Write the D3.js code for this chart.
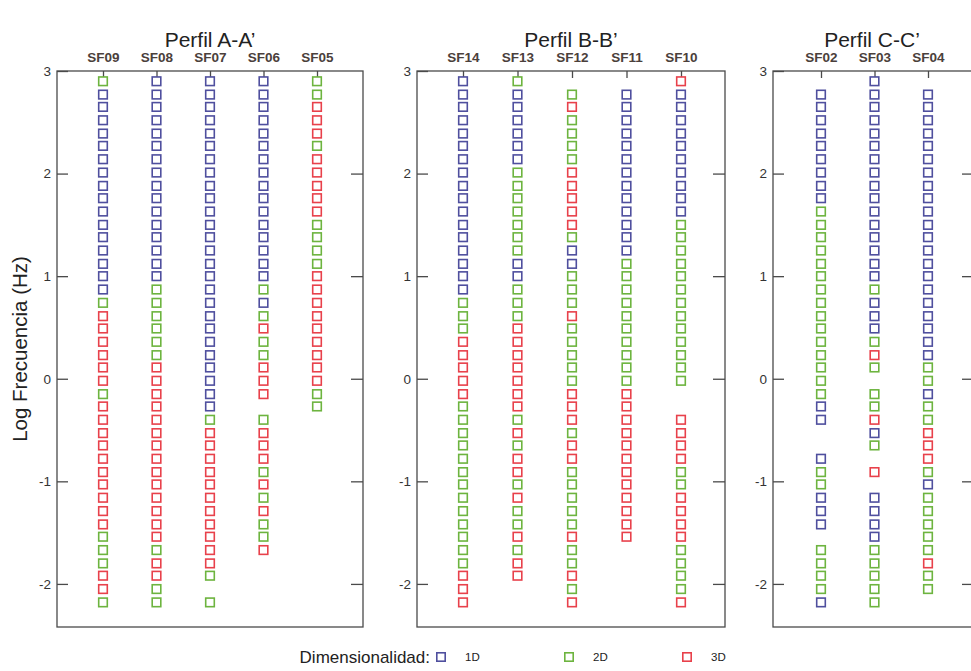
<!DOCTYPE html>
<html>
<head>
<meta charset="utf-8">
<script src="https://cdn.jsdelivr.net/npm/d3@7/dist/d3.min.js"></script>
<style>
  body { margin: 0; background: #fff; }
  svg { display: block; font-family: "Liberation Sans", Arial, sans-serif; }
</style>
</head>
<body>
<svg id="chart" width="971" height="671"></svg>
<script>
// Log frequency of each sounding row (index k, top to bottom).
const logFreq = [2.90, 2.77, 2.65, 2.52, 2.39, 2.27, 2.14, 2.01, 1.88, 1.76,
                 1.63, 1.50, 1.38, 1.25, 1.12, 1.00, 0.87, 0.74, 0.61, 0.49,
                 0.36, 0.23, 0.11, -0.02, -0.15, -0.27, -0.40, -0.53, -0.65, -0.78,
                 -0.91, -1.03, -1.16, -1.29, -1.42, -1.54, -1.67, -1.80, -1.92, -2.05,
                 -2.18];

// Profile titles and the stations along each one.
const profiles = ["Perfil A-A’", "Perfil B-B’", "Perfil C-C’"];
const stationsA = ["SF09", "SF08", "SF07", "SF06", "SF05"];
const stationsB = ["SF14", "SF13", "SF12", "SF11", "SF10"];
const stationsC = ["SF02", "SF03", "SF04"];

const yTicks = [-2, -1, 0, 1, 2, 3];
const dimLabels = ["1D", "2D", "3D"];

// Dimensionality down each station as runs of [class, rows]:
// 1 = 1D, 2 = 2D, 3 = 3D, 0 = no estimate.
const dims = {
  SF09: [[2,1],[1,16],[2,1],[3,6],[2,1],[3,10],[2,3],[3,2],[2,1]],
  SF08: [[1,16],[2,6],[3,14],[2,1],[3,2],[2,2]],
  SF07: [[1,26],[2,1],[3,11],[2,1],[0,1],[2,1]],
  SF06: [[1,16],[2,1],[1,1],[2,1],[3,1],[2,2],[3,3],[0,1],[2,1],[3,3],[2,1],[3,1],[2,1],[3,1],[2,2],[3,1]],
  SF05: [[2,2],[3,3],[2,1],[3,5],[2,4],[3,9],[2,2]],
  SF14: [[1,17],[2,3],[3,5],[2,13],[3,3]],
  SF13: [[2,1],[1,6],[2,7],[1,2],[2,3],[3,7],[2,1],[3,1],[2,1],[3,2],[2,1],[3,1],[2,2],[3,1],[2,1],[3,2]],
  SF12: [[0,1],[2,1],[3,1],[2,4],[3,5],[2,1],[1,2],[2,3],[3,1],[2,5],[3,3],[2,1],[3,2],[2,5],[3,1],[2,2],[3,1],[2,1],[3,1]],
  SF11: [[0,1],[1,13],[2,10],[3,12]],
  SF10: [[3,1],[1,10],[2,13],[0,2],[3,4],[2,2],[3,4],[2,4],[3,1]],
  SF02: [[0,1],[1,9],[2,15],[1,2],[0,2],[1,1],[2,2],[1,3],[0,1],[2,4],[1,1]],
  SF03: [[1,16],[2,1],[1,3],[2,1],[3,1],[2,1],[0,1],[2,2],[3,1],[1,1],[2,1],[0,1],[3,1],[0,1],[1,4],[2,5]],
  SF04: [[0,1],[1,21],[2,2],[1,1],[2,2],[3,3],[2,1],[1,1],[2,5],[3,1],[2,2]]
};

const color = d3.scaleOrdinal().domain([1, 2, 3]).range(["#4f4f9e", "#6db43f", "#e8414b"]);

const svg = d3.select("#chart");
const y = d3.scaleLinear().domain([-2.42, 3]).range([627, 71]);

// Panel frames: left/right edges and the x span of the first and last station slot.
const panels = [
  { title: profiles[0], stations: stationsA, x0: 57, x1: 363, s0: 103, s1: 317 },
  { title: profiles[1], stations: stationsB, x0: 417, x1: 725, s0: 463, s1: 681 },
  { title: profiles[2], stations: stationsC, x0: 773, x1: 974, s0: 821, s1: 928 }
];

// Expand the run lists into one record per square.
function expand (name) {
  let rows = [], k = 0;
  dims[name].forEach(([c, n]) => {
    for (let i = 0; i < n; i++, k++) {
      if (c > 0) rows.push({ station: name, f: logFreq[k], dim: c });
    }
  });
  return rows;
}

const stroke = "#4a4a4a";
const box = 8.6;
const font = "Liberation Sans, Arial, sans-serif";

panels.forEach(p => {
  const g = svg.append("g");
  const x = d3.scalePoint().domain(p.stations).range([p.s0, p.s1]);

  // Frame
  g.append("rect")
    .attr("x", p.x0).attr("y", y(3))
    .attr("width", p.x1 - p.x0).attr("height", y(-2.42) - y(3))
    .attr("fill", "none").attr("stroke", stroke).attr("stroke-width", 1.3);

  // Left axis: ticks pointing inward, labels outside (plain hyphen for negatives).
  const left = d3.axisLeft(y).tickValues(yTicks).tickSize(-11).tickPadding(6).tickFormat(d => String(d));
  const la = g.append("g").attr("transform", `translate(${p.x0},0)`).call(left);
  la.select(".domain").remove();
  la.selectAll("line").attr("stroke", stroke).attr("stroke-width", 1.3);
  la.selectAll("text").attr("font-size", 13.5).attr("fill", "#333").attr("font-family", font);

  // Right axis: inward ticks, no labels.
  const right = d3.axisRight(y).tickValues(yTicks.slice(0, 5)).tickSize(-12).tickFormat("");
  const ra = g.append("g").attr("transform", `translate(${p.x1},0)`).call(right);
  ra.select(".domain").remove();
  ra.selectAll("line").attr("stroke", stroke).attr("stroke-width", 1.3);

  // Top axis: station ticks and names.
  const top = d3.axisTop(x).tickSize(-7).tickPadding(9);
  const ta = g.append("g").attr("transform", `translate(0,${y(3)})`).call(top);
  ta.select(".domain").remove();
  ta.selectAll("line").attr("stroke", stroke).attr("stroke-width", 1.3);
  ta.selectAll("text").attr("font-size", 13.5).attr("font-weight", "bold")
    .attr("fill", "#4b403b").attr("font-family", font);

  // Title
  g.append("text")
    .attr("x", (p.x0 + Math.min(p.x1, 971)) / 2).attr("y", 47)
    .attr("text-anchor", "middle").attr("font-size", 21).attr("fill", "#222")
    .text(p.title);

  // Squares
  const rows = p.stations.flatMap(expand);
  g.selectAll("rect.sq").data(rows).join("rect")
    .attr("class", "sq")
    .attr("x", d => x(d.station) - box / 2)
    .attr("y", d => y(d.f) - box / 2)
    .attr("width", box).attr("height", box)
    .attr("fill", "white")
    .attr("stroke", d => color(d.dim)).attr("stroke-width", 1.6);
});

// Y axis title
svg.append("text")
  .attr("transform", `translate(27,${(y(3) + y(-2.42)) / 2}) rotate(-90)`)
  .attr("text-anchor", "middle").attr("font-size", 20.5).attr("fill", "#222")
  .text("Log Frecuencia (Hz)");

// Legend
const legY = 657;
svg.append("text")
  .attr("x", 430).attr("y", legY + 6).attr("text-anchor", "end")
  .attr("font-size", 17).attr("fill", "#222")
  .text("Dimensionalidad:");
const legX = d3.scaleOrdinal().domain([1, 2, 3]).range([441, 569, 687]);
[1, 2, 3].forEach((c, i) => {
  svg.append("rect")
    .attr("x", legX(c) - 4.2).attr("y", legY - 4.2)
    .attr("width", 8.4).attr("height", 8.4)
    .attr("fill", "white").attr("stroke", color(c)).attr("stroke-width", 1.6);
  svg.append("text")
    .attr("x", legX(c) + 24).attr("y", legY + 4)
    .attr("font-size", 11.5).attr("fill", "#222")
    .text(dimLabels[i]);
});
</script>
</body>
</html>
